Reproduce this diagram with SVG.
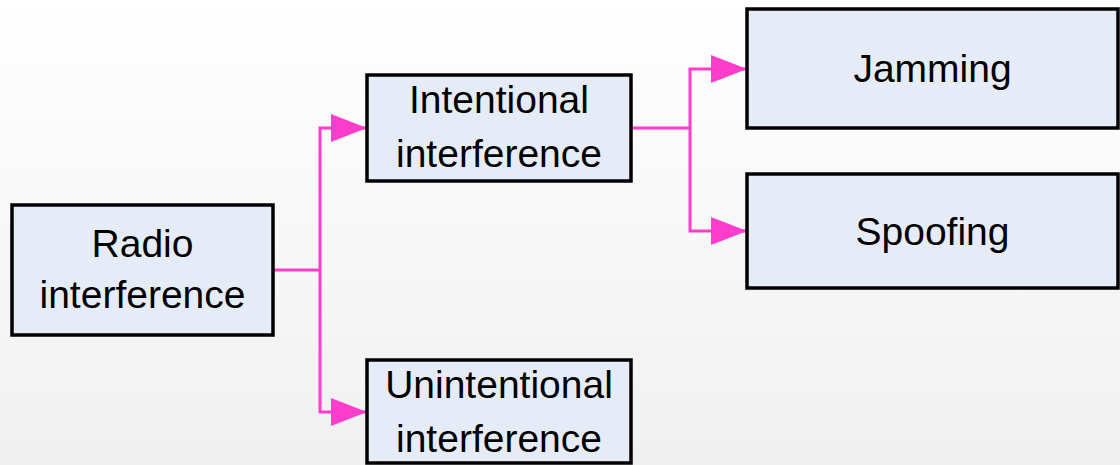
<svg xmlns="http://www.w3.org/2000/svg" width="1120" height="465" viewBox="0 0 1120 465">
<defs>
<linearGradient id="bg" x1="0" y1="0" x2="0" y2="1">
<stop offset="0" stop-color="#ffffff"/>
<stop offset="1" stop-color="#f0f0f0"/>
</linearGradient>
<marker id="arr" markerUnits="userSpaceOnUse" markerWidth="36" markerHeight="28" refX="36" refY="14" orient="auto">
<path d="M0,0 L36,14 L0,28 Z" fill="#ff3dcc"/>
</marker>
<style>
.box{fill:#e6ecf7;stroke:#000;stroke-width:3.5}
.t{font-family:"Liberation Sans",Arial,sans-serif;font-size:39px;fill:#000;text-anchor:middle}
.c{fill:none;stroke:#ff3dcc;stroke-width:3}
</style>
</defs>
<rect width="1120" height="465" fill="url(#bg)"/>
<g id="connectors">
<path class="c" d="M273,270 H320"/>
<path class="c" d="M320,270 V128 H367" marker-end="url(#arr)"/>
<path class="c" d="M320,270 V412 H367" marker-end="url(#arr)"/>
<path class="c" d="M631,128 H690"/>
<path class="c" d="M690,128 V69 H747" marker-end="url(#arr)"/>
<path class="c" d="M690,128 V231 H747" marker-end="url(#arr)"/>
</g>
<g id="radio">
<rect class="box" x="12" y="205" width="261" height="130"/>
<text class="t" x="142.5" y="257">Radio</text>
<text class="t" x="142.5" y="308">interference</text>
</g>
<g id="intentional">
<rect class="box" x="367" y="75" width="264" height="106"/>
<text class="t" x="499" y="113">Intentional</text>
<text class="t" x="499" y="167">interference</text>
</g>
<g id="unintentional">
<rect class="box" x="367" y="360" width="264" height="103"/>
<text class="t" x="499" y="398">Unintentional</text>
<text class="t" x="499" y="452">interference</text>
</g>
<g id="jamming">
<rect class="box" x="747" y="9" width="371" height="119"/>
<text class="t" x="932.5" y="82">Jamming</text>
</g>
<g id="spoofing">
<rect class="box" x="747" y="174" width="371" height="114"/>
<text class="t" x="932.5" y="245">Spoofing</text>
</g>
</svg>
